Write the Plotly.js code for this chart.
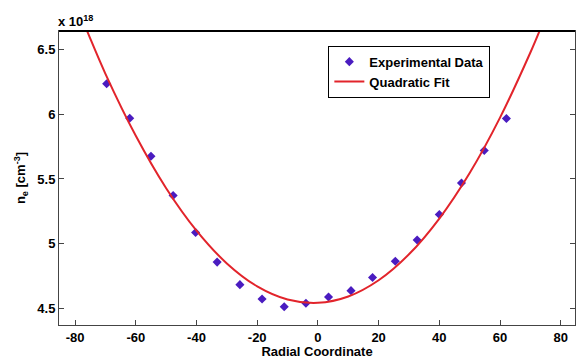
<!DOCTYPE html>
<html>
<head>
<meta charset="utf-8">
<script src="https://cdn.plot.ly/plotly-3.0.1.min.js"></script>
<style>html,body{margin:0;padding:0;background:#fff;}#chart{width:576px;height:359px;}</style>
</head>
<body>
<div id="chart"></div>
<script>
// Experimental data (radial coordinate, n_e in units of 1e18 cm^-3)
const expX = [-69.6, -62.0, -55.0, -47.7, -40.3, -33.2, -25.7, -18.4, -11.1, -3.95, 3.5, 10.9, 18.0, 25.5, 32.7, 40.0, 47.3, 54.8, 62.1];
const expY = [6.234, 5.968, 5.675, 5.373, 5.087, 4.859, 4.685, 4.575, 4.515, 4.542, 4.590, 4.639, 4.740, 4.866, 5.029, 5.226, 5.469, 5.719, 5.966];

const fitX = [-78, -76, -70, -60, -50, -40, -30, -20, -10, 0, 10, 20, 30, 40, 50, 60, 70, 74, 76];
const fitY = [6.749, 6.638, 6.311, 5.833, 5.429, 5.102, 4.849, 4.672, 4.571, 4.545, 4.594, 4.719, 4.919, 5.195, 5.546, 5.973, 6.475, 6.697, 6.812];

const xTicks = [-80, -60, -40, -20, 0, 20, 40, 60, 80];
const yTicks = [4.5, 5, 5.5, 6, 6.5];
const yTickText = ['4.5', '5', '5.5', '6', '6.5'];

const font = {family: 'Liberation Sans, Arial, sans-serif', size: 13, color: '#000', weight: 'bold'};

const traces = [
  {
    x: expX, y: expY, type: 'scatter', mode: 'markers', name: 'Experimental Data',
    marker: {symbol: 'diamond', size: 7, color: '#4a1cc0'}
  },
  {
    x: fitX, y: fitY, type: 'scatter', mode: 'lines', name: 'Quadratic Fit',
    line: {color: '#e2242b', width: 2, shape: 'spline', smoothing: 1}
  }
];

const layout = {
  width: 576, height: 359,
  margin: {l: 59, r: 1, t: 31, b: 34},
  paper_bgcolor: '#fff', plot_bgcolor: '#fff',
  font: font,
  showlegend: true,
  legend: {
    x: 0.522, y: 0.95, xanchor: 'left', yanchor: 'top',
    bgcolor: '#fff', bordercolor: '#000', borderwidth: 1,
    font: {family: font.family, size: 13, color: '#000', weight: 'bold'},
    tracegroupgap: 0, itemwidth: 30
  },
  xaxis: {
    range: [-85.3, 84.7], tickvals: xTicks, ticktext: xTicks.map(String),
    ticks: 'inside', ticklen: 5, tickcolor: '#444', tickwidth: 1,
    showline: true, linecolor: '#444', linewidth: 1, mirror: true,
    showgrid: false, zeroline: false,
    tickfont: font,
    title: {text: 'Radial Coordinate', font: font, standoff: 4}
  },
  yaxis: {
    range: [4.374, 6.641], tickvals: yTicks, ticktext: yTickText,
    ticks: 'inside', ticklen: 5, tickcolor: '#444', tickwidth: 1,
    showline: true, linecolor: '#444', linewidth: 1, mirror: 'ticks',
    showgrid: false, zeroline: false,
    tickfont: font,
    title: {text: 'n<sub>e</sub> [cm<sup>-3</sup>]', font: font, standoff: 8}
  },
  shapes: [
    {type: 'line', xref: 'paper', yref: 'paper', x0: 0, x1: 1, y0: 1, y1: 1, line: {color: '#000', width: 2}}
  ],
  annotations: [
    {xref: 'paper', yref: 'paper', x: -0.005, y: 1.0, xanchor: 'left', yanchor: 'bottom',
     text: 'x 10<sup>18</sup>', showarrow: false, font: font}
  ]
};

Plotly.newPlot('chart', traces, layout, {displayModeBar: false, staticPlot: true});
</script>
</body>
</html>
